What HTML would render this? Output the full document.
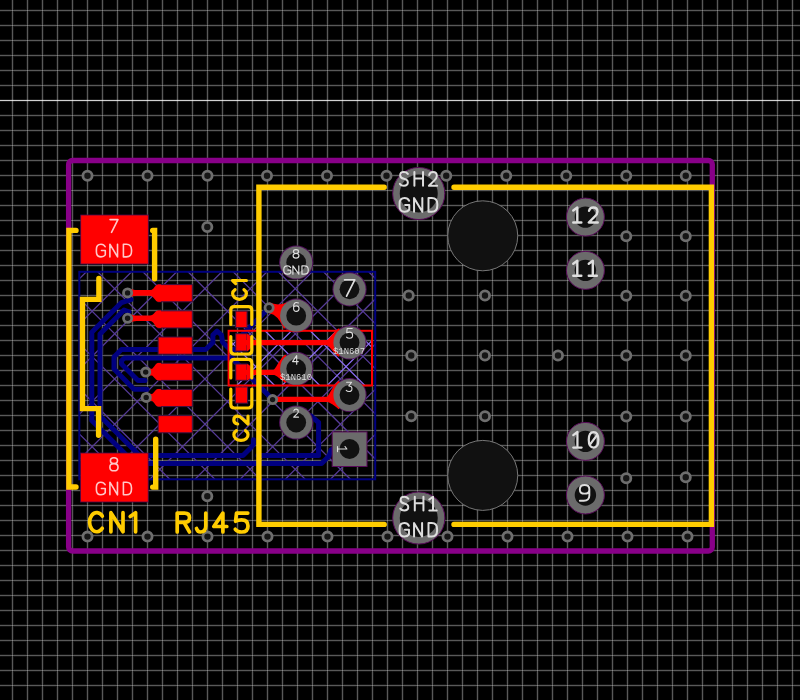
<!DOCTYPE html><html><head><meta charset="utf-8"><style>html,body{margin:0;padding:0;background:#000;width:800px;height:700px;overflow:hidden}svg{display:block;will-change:transform}</style></head><body>
<svg width="800" height="700" viewBox="0 0 800 700">
<defs>
<clipPath id="zc"><rect x="79.3" y="271.8" width="295.9" height="207.5"/></clipPath>
<clipPath id="rc"><rect x="228.6" y="330.8" width="143.4" height="54.7"/></clipPath>
</defs>
<rect width="800" height="700" fill="#000"/>
<path d="M12.5,0V700M27.5,0V700M42.5,0V700M57.5,0V700M72.5,0V700M87.5,0V700M102.5,0V700M117.5,0V700M132.5,0V700M147.5,0V700M162.5,0V700M177.5,0V700M192.5,0V700M207.5,0V700M222.5,0V700M237.5,0V700M252.5,0V700M267.5,0V700M282.5,0V700M297.5,0V700M312.5,0V700M327.5,0V700M342.5,0V700M357.5,0V700M372.5,0V700M387.5,0V700M402.5,0V700M417.5,0V700M432.5,0V700M447.5,0V700M462.5,0V700M477.5,0V700M492.5,0V700M507.5,0V700M522.5,0V700M537.5,0V700M552.5,0V700M567.5,0V700M582.5,0V700M597.5,0V700M612.5,0V700M627.5,0V700M642.5,0V700M657.5,0V700M672.5,0V700M687.5,0V700M702.5,0V700M717.5,0V700M732.5,0V700M747.5,0V700M762.5,0V700M777.5,0V700M792.5,0V700M0,10.5H800M0,25.5H800M0,40.5H800M0,55.5H800M0,70.5H800M0,85.5H800M0,115.5H800M0,130.5H800M0,145.5H800M0,160.5H800M0,175.5H800M0,190.5H800M0,205.5H800M0,220.5H800M0,235.5H800M0,250.5H800M0,265.5H800M0,280.5H800M0,295.5H800M0,310.5H800M0,325.5H800M0,340.5H800M0,355.5H800M0,370.5H800M0,385.5H800M0,400.5H800M0,415.5H800M0,430.5H800M0,445.5H800M0,460.5H800M0,475.5H800M0,490.5H800M0,505.5H800M0,520.5H800M0,535.5H800M0,550.5H800M0,565.5H800M0,580.5H800M0,595.5H800M0,610.5H800M0,625.5H800M0,640.5H800M0,655.5H800M0,670.5H800M0,685.5H800" stroke="#fff" stroke-opacity="0.07" stroke-width="3" fill="none"/>
<path d="M12.5,0V700M27.5,0V700M42.5,0V700M57.5,0V700M72.5,0V700M87.5,0V700M102.5,0V700M117.5,0V700M132.5,0V700M147.5,0V700M162.5,0V700M177.5,0V700M192.5,0V700M207.5,0V700M222.5,0V700M237.5,0V700M252.5,0V700M267.5,0V700M282.5,0V700M297.5,0V700M312.5,0V700M327.5,0V700M342.5,0V700M357.5,0V700M372.5,0V700M387.5,0V700M402.5,0V700M417.5,0V700M432.5,0V700M447.5,0V700M462.5,0V700M477.5,0V700M492.5,0V700M507.5,0V700M522.5,0V700M537.5,0V700M552.5,0V700M567.5,0V700M582.5,0V700M597.5,0V700M612.5,0V700M627.5,0V700M642.5,0V700M657.5,0V700M672.5,0V700M687.5,0V700M702.5,0V700M717.5,0V700M732.5,0V700M747.5,0V700M762.5,0V700M777.5,0V700M792.5,0V700M0,10.5H800M0,25.5H800M0,40.5H800M0,55.5H800M0,70.5H800M0,85.5H800M0,115.5H800M0,130.5H800M0,145.5H800M0,160.5H800M0,175.5H800M0,190.5H800M0,205.5H800M0,220.5H800M0,235.5H800M0,250.5H800M0,265.5H800M0,280.5H800M0,295.5H800M0,310.5H800M0,325.5H800M0,340.5H800M0,355.5H800M0,370.5H800M0,385.5H800M0,400.5H800M0,415.5H800M0,430.5H800M0,445.5H800M0,460.5H800M0,475.5H800M0,490.5H800M0,505.5H800M0,520.5H800M0,535.5H800M0,550.5H800M0,565.5H800M0,580.5H800M0,595.5H800M0,610.5H800M0,625.5H800M0,640.5H800M0,655.5H800M0,670.5H800M0,685.5H800" stroke="#fff" stroke-opacity="0.30" stroke-width="1" fill="none"/>
<path d="M0,100.5H800" stroke="#fff" stroke-opacity="0.1" stroke-width="3" fill="none"/>
<path d="M0,100.5H800" stroke="#fff" stroke-opacity="0.8" stroke-width="1" fill="none"/>
<g clip-path="url(#zc)"><path d="M19.299999999999997,293.75L435.2,-122.14999999999998M19.299999999999997,338.90000000000003L435.2,-76.99999999999994M19.299999999999997,384.05L435.2,-31.849999999999966M19.299999999999997,429.2L435.2,13.300000000000011M19.299999999999997,474.35L435.2,58.450000000000045M19.299999999999997,519.5L435.2,103.60000000000008M19.299999999999997,564.6500000000001L435.2,148.75000000000006M19.299999999999997,609.8000000000001L435.2,193.90000000000003M19.299999999999997,654.95L435.2,239.05M19.299999999999997,700.1L435.2,284.2M19.299999999999997,745.25L435.2,329.34999999999997M19.299999999999997,790.4000000000001L435.2,374.50000000000006M19.299999999999997,835.5500000000001L435.2,419.65000000000003M19.299999999999997,880.7L435.2,464.79999999999995M19.299999999999997,464.25L435.2,880.15M19.299999999999997,419.09999999999997L435.2,835.0M19.299999999999997,373.95L435.2,789.8499999999999M19.299999999999997,328.8L435.2,744.7M19.299999999999997,283.65L435.2,699.55M19.299999999999997,238.5L435.2,654.4M19.299999999999997,193.34999999999997L435.2,609.25M19.299999999999997,148.2L435.2,564.0999999999999M19.299999999999997,103.05L435.2,518.95M19.299999999999997,57.89999999999999L435.2,473.79999999999995M19.299999999999997,12.749999999999986L435.2,428.65M19.299999999999997,-32.39999999999999L435.2,383.5M19.299999999999997,-77.55000000000003L435.2,338.34999999999997M19.299999999999997,-122.7L435.2,293.2" stroke="#553a96" stroke-width="1.3" fill="none"/></g>
<g clip-path="url(#rc)"><path d="M168.6,363.44999999999993L432,100.04999999999995M168.6,408.6L432,145.20000000000005M168.6,453.75L432,190.35000000000002M168.6,498.9L432,235.5M168.6,544.05L432,280.65M168.6,589.1999999999999L432,325.79999999999995M168.6,634.35L432,370.95000000000005M168.6,369.79999999999995L432,633.2M168.6,324.65L432,588.05M168.6,279.5L432,542.9M168.6,234.35L432,497.75M168.6,189.2L432,452.6M168.6,144.05L432,407.45M168.6,98.9L432,362.3" stroke="#8a6cf0" stroke-width="1.3" fill="none"/></g>
<rect x="79.3" y="271.8" width="295.9" height="207.5" fill="none" stroke="#000080" stroke-width="2"/>
<rect x="68.6" y="160.5" width="643.7" height="390.5" rx="4" fill="none" stroke="#880088" stroke-width="5.3"/>
<path d="M131,299.6 L121.5,302.6 L91.8,332.3 L91.8,420.5 L134.8,463.5 L321.6,463.5 L329,456 L331,450 L336,448.5" fill="none" stroke="#000080" stroke-width="5" stroke-linecap="round" stroke-linejoin="round"/>
<path d="M129,312 L124,310 L100,334 L100,415.9 L139.6,455.5 L243,455.5 L251,447.5 L253.4,444.5 L253.4,439.8" fill="none" stroke="#000080" stroke-width="5" stroke-linecap="round" stroke-linejoin="round"/>
<path d="M258,455.5 L318.6,455.5 L318.6,422.5 L311,416" fill="none" stroke="#000080" stroke-width="5" stroke-linecap="round" stroke-linejoin="round"/>
<path d="M158,349.6 L121.4,349.6 L114,357 L114,369 L134,389.2 L147,389.2" fill="none" stroke="#000080" stroke-width="5" stroke-linecap="round" stroke-linejoin="round"/>
<path d="M145,380.5 L138,380.5 L121.5,364 L121.5,360.7 L124.3,357.9 L232,357.9 L272.6,399.6" fill="none" stroke="#000080" stroke-width="5" stroke-linecap="round" stroke-linejoin="round"/>
<path d="M192,349.6 L205.7,349.6 L212.9,342.4 L212.9,335 L217,331 L221.5,335 L222.5,342 L230,349.5 L240,349.5" fill="none" stroke="#000080" stroke-width="5" stroke-linecap="round" stroke-linejoin="round"/>
<path d="M269,308 L241,336" fill="none" stroke="#000080" stroke-width="5" stroke-linecap="round" stroke-linejoin="round"/>
<circle cx="296.2" cy="422.5" r="17.1" fill="#50105a"/>
<circle cx="349.5" cy="395" r="17.1" fill="#50105a"/>
<circle cx="296.2" cy="368.75" r="17.1" fill="#50105a"/>
<circle cx="349.5" cy="342.5" r="17.1" fill="#50105a"/>
<circle cx="296.2" cy="315.7" r="17.1" fill="#50105a"/>
<circle cx="349.5" cy="289.3" r="17.1" fill="#50105a"/>
<circle cx="296.2" cy="262.5" r="17.1" fill="#50105a"/>
<rect x="80.7" y="215" width="67.60000000000001" height="49" fill="#ff0000" stroke="#4a0a4a" stroke-width="0.8"/>
<rect x="80.5" y="453" width="67.69999999999999" height="49" fill="#ff0000" stroke="#4a0a4a" stroke-width="0.8"/>
<rect x="158.1" y="284.6" width="34.20000000000002" height="17.19999999999999" fill="#ff0000" stroke="#3c0f40" stroke-width="1"/>
<rect x="158.1" y="310.8" width="34.20000000000002" height="17.19999999999999" fill="#ff0000" stroke="#3c0f40" stroke-width="1"/>
<rect x="158.1" y="337.0" width="34.20000000000002" height="17.19999999999999" fill="#ff0000" stroke="#3c0f40" stroke-width="1"/>
<rect x="158.1" y="363.20000000000005" width="34.20000000000002" height="17.19999999999999" fill="#ff0000" stroke="#3c0f40" stroke-width="1"/>
<rect x="158.1" y="389.40000000000003" width="34.20000000000002" height="17.19999999999999" fill="#ff0000" stroke="#3c0f40" stroke-width="1"/>
<rect x="158.1" y="415.6" width="34.20000000000002" height="17.19999999999999" fill="#ff0000" stroke="#3c0f40" stroke-width="1"/>
<path d="M127.6,288.09999999999997 Q133.6,290.09999999999997 136.6,290.09999999999997 H150 C154,290.09999999999997 155,284.4 158,284.4 H161 V301.7 H158 C155,301.7 154,295.7 150,295.7 H136.6 Q133.6,295.7 127.6,297.7 Z" fill="#ff0000"/>
<path d="M127.6,313.5 Q133.6,315.5 136.6,315.5 H150 C154,315.5 155,310.5 158,310.5 H161 V327.8 H158 C155,327.8 154,321.1 150,321.1 H136.6 Q133.6,321.1 127.6,323.1 Z" fill="#ff0000"/>
<path d="M145.7,367.3 Q151.7,369.3 154.7,369.3 H150 C154,369.3 155,362.9 158,362.9 H161 V380.2 H158 C155,380.2 154,374.90000000000003 150,374.90000000000003 H154.7 Q151.7,374.90000000000003 145.7,376.90000000000003 Z" fill="#ff0000"/>
<path d="M146.2,392.59999999999997 Q152.2,394.59999999999997 155.2,394.59999999999997 H150 C154,394.59999999999997 155,389.1 158,389.1 H161 V406.4 H158 C155,406.4 154,400.2 150,400.2 H155.2 Q152.2,400.2 146.2,402.2 Z" fill="#ff0000"/>
<rect x="235.7" y="311.1" width="11.400000000000006" height="16.5" fill="#ff0000" stroke="#3c0f40" stroke-width="1"/>
<rect x="235.7" y="333.7" width="11.400000000000006" height="17.30000000000001" fill="#ff0000" stroke="#3c0f40" stroke-width="1"/>
<rect x="235.7" y="364" width="11.400000000000006" height="16.30000000000001" fill="#ff0000" stroke="#3c0f40" stroke-width="1"/>
<rect x="235.3" y="386.9" width="12.299999999999983" height="16.30000000000001" fill="#ff0000" stroke="#3c0f40" stroke-width="1"/>
<path d="M244,340.09999999999997 H326.80 C328.97,340.10 331.51,334.09 338.60,328.55 L349.5,342.5 L338.60,356.45 C331.51,350.91 328.97,345.30 326.80,345.3 H244 Z" fill="#ff0000"/>
<path d="M338.60,328.55 A17.70,17.70 0 0 0 338.60,356.45 L349.5,342.5 Z" fill="#ff0000"/>
<path d="M244,369.7 H273.50 C275.67,369.70 278.21,360.34 285.30,354.80 L296.2,368.75 L285.30,382.70 C278.21,377.16 275.67,374.90 273.50,374.90000000000003 H244 Z" fill="#ff0000"/>
<path d="M285.30,354.80 A17.70,17.70 0 0 0 285.30,382.70 L296.2,368.75 Z" fill="#ff0000"/>
<path d="M272.6,396.79999999999995 H326.80 C328.97,396.80 331.51,386.59 338.60,381.05 L349.5,395 L338.60,408.95 C331.51,403.41 328.97,402.00 326.80,402.0 H272.6 Z" fill="#ff0000"/>
<path d="M338.60,381.05 A17.70,17.70 0 0 0 338.60,408.95 L349.5,395 Z" fill="#ff0000"/>
<path d="M269.1,302.3 Q278,306.5 287,302.5 L296.2,315.7 L284,329 Q278.5,315 269.1,313.3 Z" fill="#ff0000"/>
<path d="M247,333.7 C251,335 252,340 252,342 C252,345 251,350 247,351 Z" fill="#ff0000"/>
<path d="M247,364 C251,365 252,369 252,372 C252,375 251,379 247,380.3 Z" fill="#ff0000"/>
<rect x="228.6" y="330.8" width="143.4" height="54.7" fill="none" stroke="#ff0000" stroke-width="2"/>
<circle cx="87.5" cy="175.7" r="4.6" fill="#151515" stroke="#6e6e6e" stroke-width="2.8"/>
<circle cx="147.5" cy="175.7" r="4.6" fill="#151515" stroke="#6e6e6e" stroke-width="2.8"/>
<circle cx="207.5" cy="175.7" r="4.6" fill="#151515" stroke="#6e6e6e" stroke-width="2.8"/>
<circle cx="267" cy="175.7" r="4.6" fill="#151515" stroke="#6e6e6e" stroke-width="2.8"/>
<circle cx="327" cy="175.7" r="4.6" fill="#151515" stroke="#6e6e6e" stroke-width="2.8"/>
<circle cx="386.5" cy="175.7" r="4.6" fill="#151515" stroke="#6e6e6e" stroke-width="2.8"/>
<circle cx="446.25" cy="175.7" r="4.6" fill="#151515" stroke="#6e6e6e" stroke-width="2.8"/>
<circle cx="506.25" cy="175.7" r="4.6" fill="#151515" stroke="#6e6e6e" stroke-width="2.8"/>
<circle cx="566.25" cy="175.7" r="4.6" fill="#151515" stroke="#6e6e6e" stroke-width="2.8"/>
<circle cx="626.25" cy="175.7" r="4.6" fill="#151515" stroke="#6e6e6e" stroke-width="2.8"/>
<circle cx="685.75" cy="175.7" r="4.6" fill="#151515" stroke="#6e6e6e" stroke-width="2.8"/>
<circle cx="87.5" cy="536.6" r="4.6" fill="#151515" stroke="#6e6e6e" stroke-width="2.8"/>
<circle cx="147.5" cy="536.6" r="4.6" fill="#151515" stroke="#6e6e6e" stroke-width="2.8"/>
<circle cx="207.5" cy="536.6" r="4.6" fill="#151515" stroke="#6e6e6e" stroke-width="2.8"/>
<circle cx="267.5" cy="536.6" r="4.6" fill="#151515" stroke="#6e6e6e" stroke-width="2.8"/>
<circle cx="327.5" cy="536.6" r="4.6" fill="#151515" stroke="#6e6e6e" stroke-width="2.8"/>
<circle cx="387.5" cy="536.6" r="4.6" fill="#151515" stroke="#6e6e6e" stroke-width="2.8"/>
<circle cx="447.5" cy="536.6" r="4.6" fill="#151515" stroke="#6e6e6e" stroke-width="2.8"/>
<circle cx="507.5" cy="536.6" r="4.6" fill="#151515" stroke="#6e6e6e" stroke-width="2.8"/>
<circle cx="567.5" cy="536.6" r="4.6" fill="#151515" stroke="#6e6e6e" stroke-width="2.8"/>
<circle cx="627.5" cy="536.6" r="4.6" fill="#151515" stroke="#6e6e6e" stroke-width="2.8"/>
<circle cx="687.5" cy="536.6" r="4.6" fill="#151515" stroke="#6e6e6e" stroke-width="2.8"/>
<circle cx="207.3" cy="227" r="4.6" fill="#151515" stroke="#6e6e6e" stroke-width="2.8"/>
<circle cx="207.3" cy="496.3" r="4.6" fill="#151515" stroke="#6e6e6e" stroke-width="2.8"/>
<circle cx="408.75" cy="295.5" r="4.6" fill="#151515" stroke="#6e6e6e" stroke-width="2.8"/>
<circle cx="485" cy="295.5" r="4.6" fill="#151515" stroke="#6e6e6e" stroke-width="2.8"/>
<circle cx="626.25" cy="236.25" r="4.6" fill="#151515" stroke="#6e6e6e" stroke-width="2.8"/>
<circle cx="685.75" cy="236.25" r="4.6" fill="#151515" stroke="#6e6e6e" stroke-width="2.8"/>
<circle cx="626.25" cy="295.75" r="4.6" fill="#151515" stroke="#6e6e6e" stroke-width="2.8"/>
<circle cx="685.75" cy="295.75" r="4.6" fill="#151515" stroke="#6e6e6e" stroke-width="2.8"/>
<circle cx="411.25" cy="355.5" r="4.6" fill="#151515" stroke="#6e6e6e" stroke-width="2.8"/>
<circle cx="485" cy="355.5" r="4.6" fill="#151515" stroke="#6e6e6e" stroke-width="2.8"/>
<circle cx="558" cy="355.5" r="4.6" fill="#151515" stroke="#6e6e6e" stroke-width="2.8"/>
<circle cx="626.25" cy="355.5" r="4.6" fill="#151515" stroke="#6e6e6e" stroke-width="2.8"/>
<circle cx="685.75" cy="355.5" r="4.6" fill="#151515" stroke="#6e6e6e" stroke-width="2.8"/>
<circle cx="411.25" cy="416.25" r="4.6" fill="#151515" stroke="#6e6e6e" stroke-width="2.8"/>
<circle cx="485" cy="416.25" r="4.6" fill="#151515" stroke="#6e6e6e" stroke-width="2.8"/>
<circle cx="626.25" cy="416.5" r="4.6" fill="#151515" stroke="#6e6e6e" stroke-width="2.8"/>
<circle cx="685.75" cy="416.5" r="4.6" fill="#151515" stroke="#6e6e6e" stroke-width="2.8"/>
<circle cx="626.25" cy="478.25" r="4.6" fill="#151515" stroke="#6e6e6e" stroke-width="2.8"/>
<circle cx="685.75" cy="477.2" r="4.6" fill="#151515" stroke="#6e6e6e" stroke-width="2.8"/>
<circle cx="127.6" cy="292.9" r="4.1" fill="#151515" stroke="#6e6e6e" stroke-width="2.8"/>
<circle cx="127.6" cy="318.3" r="4.1" fill="#151515" stroke="#6e6e6e" stroke-width="2.8"/>
<circle cx="145.7" cy="372.1" r="4.1" fill="#151515" stroke="#6e6e6e" stroke-width="2.8"/>
<circle cx="146.2" cy="397.4" r="4.1" fill="#151515" stroke="#6e6e6e" stroke-width="2.8"/>
<circle cx="269.1" cy="307.8" r="4.1" fill="#151515" stroke="#6e6e6e" stroke-width="2.8"/>
<circle cx="272.6" cy="399.6" r="4.1" fill="#151515" stroke="#6e6e6e" stroke-width="2.8"/>
<circle cx="296.2" cy="422.5" r="16.1" fill="#6b6b6b"/>
<circle cx="296.2" cy="422.5" r="9.9" fill="#111"/>
<circle cx="349.5" cy="395" r="16.1" fill="#6b6b6b"/>
<circle cx="349.5" cy="395" r="9.9" fill="#111"/>
<circle cx="296.2" cy="368.75" r="16.1" fill="#6b6b6b"/>
<circle cx="296.2" cy="368.75" r="9.9" fill="#111"/>
<circle cx="349.5" cy="342.5" r="16.1" fill="#6b6b6b"/>
<circle cx="349.5" cy="342.5" r="9.9" fill="#111"/>
<circle cx="296.2" cy="315.7" r="16.1" fill="#6b6b6b"/>
<circle cx="296.2" cy="315.7" r="9.9" fill="#111"/>
<circle cx="349.5" cy="289.3" r="16.1" fill="#6b6b6b"/>
<circle cx="349.5" cy="289.3" r="9.9" fill="#111"/>
<circle cx="296.2" cy="262.5" r="16.1" fill="#6b6b6b"/>
<circle cx="296.2" cy="262.5" r="9.9" fill="#111"/>
<rect x="332.2" y="431.9" width="34.8" height="34.6" fill="#6b6b6b" stroke="#5a0a5a" stroke-width="1"/>
<circle cx="349.5" cy="449" r="10" fill="#111"/>
<circle cx="418.75" cy="193.5" r="26.1" fill="#6b6b6b" stroke="#5a0a5a" stroke-width="1"/>
<circle cx="418.75" cy="193.5" r="19" fill="#111"/>
<circle cx="418.75" cy="518" r="26.1" fill="#6b6b6b" stroke="#5a0a5a" stroke-width="1"/>
<circle cx="418.75" cy="518" r="19" fill="#111"/>
<circle cx="585.4" cy="217.1" r="19" fill="#6b6b6b" stroke="#5a0a5a" stroke-width="1"/>
<circle cx="585.4" cy="217.1" r="10.7" fill="#111"/>
<circle cx="585.4" cy="270.35" r="19" fill="#6b6b6b" stroke="#5a0a5a" stroke-width="1"/>
<circle cx="585.4" cy="270.35" r="10.7" fill="#111"/>
<circle cx="585.4" cy="441.4" r="19" fill="#6b6b6b" stroke="#5a0a5a" stroke-width="1"/>
<circle cx="585.4" cy="441.4" r="10.7" fill="#111"/>
<circle cx="585.4" cy="495" r="19" fill="#6b6b6b" stroke="#5a0a5a" stroke-width="1"/>
<circle cx="585.4" cy="495" r="10.7" fill="#111"/>
<circle cx="482.75" cy="235.8" r="35" fill="#111" stroke="#777" stroke-width="1"/>
<circle cx="482.75" cy="475.4" r="35" fill="#111" stroke="#777" stroke-width="1"/>
<path d="M384.2,187.3 H258.9 V524.4 H384.2 M454,524.4 H711.4 V187.3 H454" fill="none" stroke="#ffcc00" stroke-width="5.4" stroke-linecap="round" stroke-linejoin="miter"/>
<path d="M76,230.4 H68.9 V487 H76" fill="none" stroke="#ffcc00" stroke-width="5.4" stroke-linecap="round" stroke-linejoin="miter"/>
<path d="M152.7,230.4 H154.6 V278.8" fill="none" stroke="#ffcc00" stroke-width="5.4" stroke-linecap="round" stroke-linejoin="miter"/>
<path d="M155.7,439.1 V487.1 H152.7" fill="none" stroke="#ffcc00" stroke-width="5.4" stroke-linecap="round" stroke-linejoin="miter"/>
<path d="M98.9,278.4 V299.4 H82.5 V408.6 H98.6 V435.2" fill="none" stroke="#ffcc00" stroke-width="5.4" stroke-linecap="round" stroke-linejoin="miter"/>
<path d="M230.8,324.4 V310 Q230.8,306.6 234.2,306.6 H248.4 Q251.8,306.6 251.8,310 V324.4 M230.8,336.6 V350.6 Q230.8,354 234.2,354 H248.4 Q251.8,354 251.8,350.6 V336.6" fill="none" stroke="#ffcc00" stroke-width="3.2" stroke-linecap="round" stroke-linejoin="miter"/>
<path d="M230.8,378 V362.8 Q230.8,359.4 234.2,359.4 H248.4 Q251.8,359.4 251.8,362.8 V378 M230.8,389 V404.6 Q230.8,408 234.2,408 H248.4 Q251.8,408 251.8,404.6 V389" fill="none" stroke="#ffcc00" stroke-width="3.2" stroke-linecap="round" stroke-linejoin="miter"/>
<path d="M102.3,516.1 A7.2,9.55 0 1 0 102.3,528.3 M110.9,531.8 V512.7 L123,531.8 V512.7 M130.2,516.5 L135.6,512.7 V531.8 M177.2,532 V513.1 H184.5 Q189.5,513.1 189.5,517.7 Q189.5,522.3 184.5,522.3 H177.2 M184,522.3 L189.5,532 M205.8,513.1 V526 Q205.8,532 200.5,532 Q197.5,532 196.5,528.5 M222.9,532 V513.1 L213.8,526.5 H226.8 M247.8,513.1 H236.5 L235.6,521.3 Q238,519.8 241.5,519.8 Q248,519.8 248,525.9 Q248,532 241.5,532 Q237.5,532 235.3,529.3" fill="none" stroke="#ffcc00" stroke-width="3.7" stroke-linecap="round" stroke-linejoin="round"/>
<g transform="translate(246.4,299.3) rotate(-90)"><path d="M9.7,-11.3 A5.49,6.9 0 1 0 9.7,-2.45 M15.7,-10.7 L18.8,-13.8 V0" fill="none" stroke="#ffcc00" stroke-width="3.2" stroke-linecap="round" stroke-linejoin="round"/></g>
<g transform="translate(248,440.4) rotate(-90)"><path d="M9.7,-11.6 A5.49,7.1 0 1 0 9.7,-2.5 M16.4,-10.3 Q16.8,-14.2 20.3,-14.2 Q24.2,-14.2 24.2,-10.4 Q24.2,-8 21.5,-5.5 L16.4,0 H24.2" fill="none" stroke="#ffcc00" stroke-width="3.2" stroke-linecap="round" stroke-linejoin="round"/></g>
<g transform="translate(110,232.4) scale(12.8000,12.8)" fill="none" stroke="#ffc8c8" stroke-width="1.6" stroke-linecap="round" stroke-linejoin="round"><path transform="translate(0.0000,0)" d="M0,-1 H0.62 L0.12,0" vector-effect="non-scaling-stroke"/></g>
<g transform="translate(96.4,256.9) scale(12.7000,12.7)" fill="none" stroke="#ffc8c8" stroke-width="1.6" stroke-linecap="round" stroke-linejoin="round"><path transform="translate(0.0000,0)" d="M0.69,-0.8 Q0.59,-1 0.36,-1 Q0,-1 0,-0.6 V-0.4 Q0,0 0.36,0 Q0.59,0 0.7,-0.16 V-0.5 H0.4" vector-effect="non-scaling-stroke"/><path transform="translate(1.0630,0)" d="M0,0 V-1 L0.6,0 V-1" vector-effect="non-scaling-stroke"/><path transform="translate(2.1260,0)" d="M0,0 V-1 H0.24 Q0.64,-1 0.64,-0.55 V-0.45 Q0.64,0 0.24,0 Z" vector-effect="non-scaling-stroke"/></g>
<g transform="translate(109.9,470.8) scale(13.1000,13.1)" fill="none" stroke="#ffc8c8" stroke-width="1.6" stroke-linecap="round" stroke-linejoin="round"><path transform="translate(0.0000,0)" d="M0.31,-0.55 Q0.04,-0.55 0.04,-0.78 Q0.04,-1 0.31,-1 Q0.58,-1 0.58,-0.78 Q0.58,-0.55 0.31,-0.55 Q0,-0.55 0,-0.28 Q0,0 0.31,0 Q0.62,0 0.62,-0.28 Q0.62,-0.55 0.31,-0.55 Z" vector-effect="non-scaling-stroke"/></g>
<g transform="translate(96.4,494.8) scale(12.6000,12.6)" fill="none" stroke="#ffc8c8" stroke-width="1.6" stroke-linecap="round" stroke-linejoin="round"><path transform="translate(0.0000,0)" d="M0.69,-0.8 Q0.59,-1 0.36,-1 Q0,-1 0,-0.6 V-0.4 Q0,0 0.36,0 Q0.59,0 0.7,-0.16 V-0.5 H0.4" vector-effect="non-scaling-stroke"/><path transform="translate(1.0714,0)" d="M0,0 V-1 L0.6,0 V-1" vector-effect="non-scaling-stroke"/><path transform="translate(2.1429,0)" d="M0,0 V-1 H0.24 Q0.64,-1 0.64,-0.55 V-0.45 Q0.64,0 0.24,0 Z" vector-effect="non-scaling-stroke"/></g>
<g transform="translate(399.9,185.7) scale(13.7000,13.7)" fill="none" stroke="#dedede" stroke-width="2" stroke-linecap="round" stroke-linejoin="round"><path transform="translate(0.0000,0)" d="M0.58,-0.86 Q0.48,-1 0.29,-1 Q0.02,-1 0.02,-0.76 Q0.02,-0.56 0.29,-0.5 Q0.58,-0.44 0.58,-0.23 Q0.58,0 0.29,0 Q0.08,0 0,-0.13" vector-effect="non-scaling-stroke"/><path transform="translate(1.0584,0)" d="M0,-1 V0 M0.63,-1 V0 M0,-0.52 H0.63" vector-effect="non-scaling-stroke"/><path transform="translate(2.1168,0)" d="M0.02,-0.78 Q0.08,-1 0.3,-1 Q0.58,-1 0.58,-0.72 Q0.58,-0.55 0.38,-0.37 L0,0 H0.6" vector-effect="non-scaling-stroke"/></g>
<g transform="translate(399.6,211.8) scale(13.8000,13.8)" fill="none" stroke="#dedede" stroke-width="2" stroke-linecap="round" stroke-linejoin="round"><path transform="translate(0.0000,0)" d="M0.69,-0.8 Q0.59,-1 0.36,-1 Q0,-1 0,-0.6 V-0.4 Q0,0 0.36,0 Q0.59,0 0.7,-0.16 V-0.5 H0.4" vector-effect="non-scaling-stroke"/><path transform="translate(1.0471,0)" d="M0,0 V-1 L0.6,0 V-1" vector-effect="non-scaling-stroke"/><path transform="translate(2.0942,0)" d="M0,0 V-1 H0.24 Q0.64,-1 0.64,-0.55 V-0.45 Q0.64,0 0.24,0 Z" vector-effect="non-scaling-stroke"/></g>
<g transform="translate(400.3,510.4) scale(13.7000,13.7)" fill="none" stroke="#dedede" stroke-width="2" stroke-linecap="round" stroke-linejoin="round"><path transform="translate(0.0000,0)" d="M0.58,-0.86 Q0.48,-1 0.29,-1 Q0.02,-1 0.02,-0.76 Q0.02,-0.56 0.29,-0.5 Q0.58,-0.44 0.58,-0.23 Q0.58,0 0.29,0 Q0.08,0 0,-0.13" vector-effect="non-scaling-stroke"/><path transform="translate(1.0584,0)" d="M0,-1 V0 M0.63,-1 V0 M0,-0.52 H0.63" vector-effect="non-scaling-stroke"/><path transform="translate(2.1168,0)" d="M0,-0.8 L0.27,-1 V0 M0,0 H0.54" vector-effect="non-scaling-stroke"/></g>
<g transform="translate(399.6,536.5) scale(13.4000,13.4)" fill="none" stroke="#dedede" stroke-width="2" stroke-linecap="round" stroke-linejoin="round"><path transform="translate(0.0000,0)" d="M0.69,-0.8 Q0.59,-1 0.36,-1 Q0,-1 0,-0.6 V-0.4 Q0,0 0.36,0 Q0.59,0 0.7,-0.16 V-0.5 H0.4" vector-effect="non-scaling-stroke"/><path transform="translate(1.0784,0)" d="M0,0 V-1 L0.6,0 V-1" vector-effect="non-scaling-stroke"/><path transform="translate(2.1567,0)" d="M0,0 V-1 H0.24 Q0.64,-1 0.64,-0.55 V-0.45 Q0.64,0 0.24,0 Z" vector-effect="non-scaling-stroke"/></g>
<g transform="translate(573.25,222.5) scale(15.0000,15)" fill="none" stroke="#dedede" stroke-width="2.4" stroke-linecap="round" stroke-linejoin="round"><path transform="translate(0.0000,0)" d="M0,-0.8 L0.27,-1 V0 M0,0 H0.54" vector-effect="non-scaling-stroke"/><path transform="translate(1.0333,0)" d="M0.02,-0.78 Q0.08,-1 0.3,-1 Q0.58,-1 0.58,-0.72 Q0.58,-0.55 0.38,-0.37 L0,0 H0.6" vector-effect="non-scaling-stroke"/></g>
<g transform="translate(573.25,275.75) scale(15.0000,15)" fill="none" stroke="#dedede" stroke-width="2.4" stroke-linecap="round" stroke-linejoin="round"><path transform="translate(0.0000,0)" d="M0,-0.8 L0.27,-1 V0 M0,0 H0.54" vector-effect="non-scaling-stroke"/><path transform="translate(1.0333,0)" d="M0,-0.8 L0.27,-1 V0 M0,0 H0.54" vector-effect="non-scaling-stroke"/></g>
<g transform="translate(573.25,447.5) scale(15.5000,15.5)" fill="none" stroke="#dedede" stroke-width="2.25" stroke-linecap="round" stroke-linejoin="round"><path transform="translate(0.0000,0)" d="M0,-0.8 L0.27,-1 V0 M0,0 H0.54" vector-effect="non-scaling-stroke"/><path transform="translate(1.0000,0)" d="M0.31,-1 Q0.62,-1 0.62,-0.5 Q0.62,0 0.31,0 Q0,0 0,-0.5 Q0,-1 0.31,-1 Z M0.1,-0.22 L0.52,-0.78" vector-effect="non-scaling-stroke"/></g>
<g transform="translate(579.85,500.8) scale(15.8500,15.85)" fill="none" stroke="#dedede" stroke-width="1.9" stroke-linecap="round" stroke-linejoin="round"><path transform="translate(0.0000,0)" d="M0.6,-0.72 Q0.6,-0.45 0.3,-0.45 Q0,-0.45 0,-0.72 Q0,-1 0.3,-1 Q0.6,-1 0.6,-0.72 V-0.35 Q0.6,0 0.25,0 H0" vector-effect="non-scaling-stroke"/></g>
<g transform="translate(293.1,258.05) scale(9.3500,8.5)" fill="none" stroke="#dedede" stroke-width="1.2" stroke-linecap="round" stroke-linejoin="round"><path transform="translate(0.0000,0)" d="M0.31,-0.55 Q0.04,-0.55 0.04,-0.78 Q0.04,-1 0.31,-1 Q0.58,-1 0.58,-0.78 Q0.58,-0.55 0.31,-0.55 Q0,-0.55 0,-0.28 Q0,0 0.31,0 Q0.62,0 0.62,-0.28 Q0.62,-0.55 0.31,-0.55 Z" vector-effect="non-scaling-stroke"/></g>
<g transform="translate(283.85,274.15) scale(9.8400,8.2)" fill="none" stroke="#dedede" stroke-width="1.2" stroke-linecap="round" stroke-linejoin="round"><path transform="translate(0.0000,0)" d="M0.69,-0.8 Q0.59,-1 0.36,-1 Q0,-1 0,-0.6 V-0.4 Q0,0 0.36,0 Q0.59,0 0.7,-0.16 V-0.5 H0.4" vector-effect="non-scaling-stroke"/><path transform="translate(0.9197,0)" d="M0,0 V-1 L0.6,0 V-1" vector-effect="non-scaling-stroke"/><path transform="translate(1.8394,0)" d="M0,0 V-1 H0.24 Q0.64,-1 0.64,-0.55 V-0.45 Q0.64,0 0.24,0 Z" vector-effect="non-scaling-stroke"/></g>
<g transform="translate(344.6,296.2) scale(16.4000,16.4)" fill="none" stroke="#dedede" stroke-width="1.7" stroke-linecap="round" stroke-linejoin="round"><path transform="translate(0.0000,0)" d="M0,-1 H0.62 L0.12,0" vector-effect="non-scaling-stroke"/></g>
<g transform="translate(293.6,311.35) scale(8.8000,8.8)" fill="none" stroke="#dedede" stroke-width="1.1" stroke-linecap="round" stroke-linejoin="round"><path transform="translate(0.0000,0)" d="M0.56,-0.96 Q0.46,-1 0.32,-1 Q0,-1 0,-0.5 V-0.33 Q0,0 0.31,0 Q0.62,0 0.62,-0.32 Q0.62,-0.62 0.31,-0.62 Q0.08,-0.62 0,-0.45" vector-effect="non-scaling-stroke"/></g>
<g transform="translate(346.55,338.25) scale(9.8000,9.8)" fill="none" stroke="#dedede" stroke-width="1.1" stroke-linecap="round" stroke-linejoin="round"><path transform="translate(0.0000,0)" d="M0.58,-1 H0.06 L0.02,-0.55 Q0.14,-0.62 0.31,-0.62 Q0.62,-0.62 0.62,-0.31 Q0.62,0 0.31,0 Q0.1,0 0,-0.12" vector-effect="non-scaling-stroke"/></g>
<g transform="translate(292.55,364.2) scale(8.6500,8.65)" fill="none" stroke="#dedede" stroke-width="1.1" stroke-linecap="round" stroke-linejoin="round"><path transform="translate(0.0000,0)" d="M0.48,0 V-1 L0,-0.3 H0.66" vector-effect="non-scaling-stroke"/></g>
<g transform="translate(346.25,391.45) scale(9.2000,9.2)" fill="none" stroke="#dedede" stroke-width="1.1" stroke-linecap="round" stroke-linejoin="round"><path transform="translate(0.0000,0)" d="M0.04,-1 H0.58 L0.27,-0.6 Q0.62,-0.6 0.62,-0.3 Q0.62,0 0.31,0 Q0.1,0 0,-0.12" vector-effect="non-scaling-stroke"/></g>
<g transform="translate(293.65,417.15) scale(8.0000,8)" fill="none" stroke="#dedede" stroke-width="1.1" stroke-linecap="round" stroke-linejoin="round"><path transform="translate(0.0000,0)" d="M0.02,-0.78 Q0.08,-1 0.3,-1 Q0.58,-1 0.58,-0.72 Q0.58,-0.55 0.38,-0.37 L0,0 H0.6" vector-effect="non-scaling-stroke"/></g>
<g transform="translate(337.5,446.5) rotate(90) scale(9.4000,9.4)" fill="none" stroke="#dedede" stroke-width="1.1" stroke-linecap="round" stroke-linejoin="round"><path transform="translate(0.0000,0)" d="M0,-0.8 L0.27,-1 V0 M0,0 H0.54" vector-effect="non-scaling-stroke"/></g>
<text x="333" y="353.9" font-family='"Liberation Mono", monospace' font-size="8.8" font-weight="normal" fill="#dedede" text-anchor="start" textLength="32" lengthAdjust="spacingAndGlyphs" >$1N607</text>
<text x="280" y="380" font-family='"Liberation Mono", monospace' font-size="8.8" font-weight="normal" fill="#dedede" text-anchor="start" textLength="32" lengthAdjust="spacingAndGlyphs" >$1N610</text>
</svg></body></html>
